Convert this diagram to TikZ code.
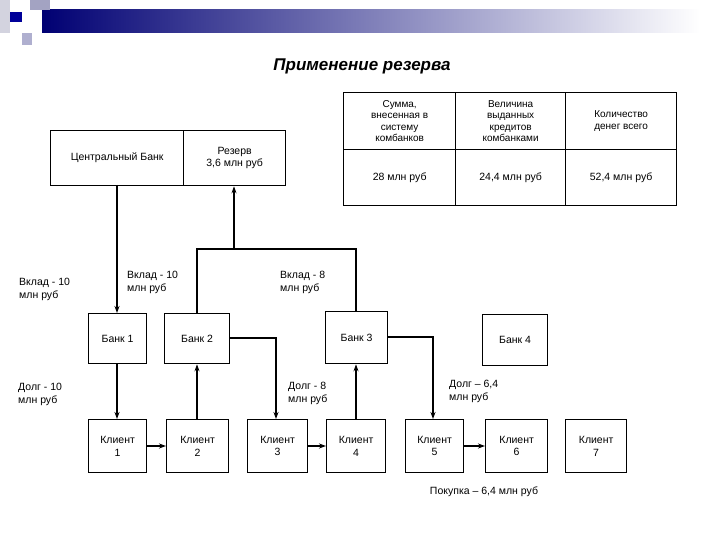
\documentclass[tikz,border=0pt]{standalone}
\usepackage{fontspec}
\setmainfont{Liberation Sans}
\usetikzlibrary{arrows.meta}
\begin{document}
\begin{tikzpicture}[x=1pt,y=-1pt,
  box/.style={draw,line width=1.3pt,inner sep=0pt,align=center,font=\fontsize{10.5}{12.5}\selectfont},
  lab/.style={align=left,anchor=north west,inner sep=0pt,font=\fontsize{10.5}{12.5}\selectfont},
  con/.style={line width=1.6pt},
  arr/.style={con,-{Stealth[length=7pt,width=5pt]}}]
\useasboundingbox (0,0) rectangle (720,540);
% decoration
\shade[left color=blue!45!black,right color=white] (42,10) rectangle (700,33);
\fill[blue!20!gray!60] (30,0) rectangle (50,10);
\fill[blue!25!gray!50] (22,33) rectangle (32,45);
\fill[blue!15!gray!30] (0,0) rectangle (10,33);
\fill[blue!60!black] (10,12) rectangle (22,22);
\node[font=\fontsize{17}{20}\selectfont\bfseries\itshape] (title) at (362,66) {Применение резерва};
% central bank
\node[box,minimum width=133pt,minimum height=55pt,anchor=north west] (cb) at (50,130) {Центральный Банк};
\node[box,minimum width=102pt,minimum height=55pt,anchor=north west] (res) at (183,130) {Резерв\\3,6 млн руб};
% table
\foreach \n/\xa/\xb/\t/\v in {t1/343/455/{Сумма,\\внесенная в\\систему\\комбанков}/{28 млн руб},
  t2/455/565/{Величина\\выданных\\кредитов\\комбанками}/{24,4 млн руб},
  t3/565/676/{Количество\\денег всего}/{52,4 млн руб}}{
  \node[box,minimum width=\xb-\xa,minimum height=57pt,anchor=north west,font=\fontsize{10}{11.5}\selectfont] (\n h) at (\xa,92) {\t};
  \node[box,minimum width=\xb-\xa,minimum height=56pt,anchor=north west] (\n v) at (\xa,149) {\v};
}
% banks
\node[box,minimum width=58pt,minimum height=50pt,anchor=north west] (b1) at (88,313) {Банк 1};
\node[box,minimum width=65pt,minimum height=50pt,anchor=north west] (b2) at (164,313) {Банк 2};
\node[box,minimum width=62pt,minimum height=52pt,anchor=north west] (b3) at (325,311) {Банк 3};
\node[box,minimum width=65pt,minimum height=51pt,anchor=north west] (b4) at (482,314) {Банк 4};
% clients
\foreach \n/\xa/\w/\k in {c1/88/58/1,c2/166/62/2,c3/247/60/3,c4/326/59/4,c5/405/58/5,c6/485/62/6,c7/565/61/7}{
  \node[box,minimum width=\w pt,minimum height=53pt,anchor=north west] (\n) at (\xa,419) {Клиент\\\k};
}
% connectors
\coordinate (j2) at (197,249);
\coordinate (j3) at (356,249);
\coordinate (jr) at (234,249);
\draw[arr] (117,185) -- (b1.north -| 117,0);
\draw[con] (b2.north -| j2) -- (j2) -- (j3) -- (b3.north -| j3);
\draw[arr] (jr) -- (res.south -| jr);
\draw[arr] (b1.south -| 117,0) -- (c1.north -| 117,0);
\draw[arr] (c2.north -| j2) -- (b2.south -| j2);
\draw[arr] (c4.north -| j3) -- (b3.south -| j3);
\draw[arr] (b2.east |- 0,338) -| (c3.north -| 276,0);
\draw[arr] (b3.east |- 0,337) -| (c5.north -| 433,0);
\draw[arr] (c1.east |- 0,446) -- (c2.west |- 0,446);
\draw[arr] (c3.east |- 0,446) -- (c4.west |- 0,446);
\draw[arr] (c5.east |- 0,446) -- (c6.west |- 0,446);
% labels
\node[lab] (l1) at (19,278) {Вклад - 10\\млн руб};
\node[lab] (l2) at (127,271) {Вклад - 10\\млн руб};
\node[lab] (l3) at (280,271) {Вклад - 8\\млн руб};
\node[lab] (l4) at (18,383) {Долг - 10\\млн руб};
\node[lab] (l5) at (288,382) {Долг - 8\\млн руб};
\node[lab] (l6) at (449,380) {Долг – 6,4\\млн руб};
\node[lab,anchor=center] (l7) at (484,492) {Покупка – 6,4 млн руб};
\end{tikzpicture}
\end{document}
